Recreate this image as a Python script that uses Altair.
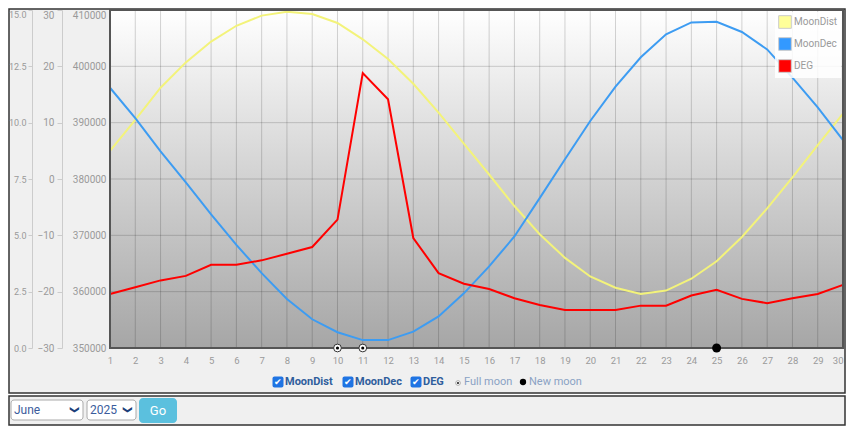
import altair as alt
import pandas as pd

# ---------------- data ----------------
days = list(range(1, 31))
moon_dist = [385000, 390500, 396200, 400700, 404400, 407200, 409000, 409700, 409300, 407700,
             404800, 401300, 396900, 391800, 386300, 380800, 375200, 370200, 366000, 362700,
             360700, 359600, 360200, 362300, 365400, 369700, 374800, 380300, 386000, 391600]
moon_dec = [16.2, 10.8, 4.9, -0.6, -6.3, -11.7, -16.7, -21.3, -24.9, -27.2,
            -28.6, -28.6, -27.1, -24.4, -20.3, -15.5, -10.2, -3.4, 3.5, 10.3,
            16.4, 21.6, 25.7, 27.8, 27.9, 26.1, 23.0, 18.0, 12.7, 6.9]
deg = [2.40, 2.70, 3.00, 3.20, 3.69, 3.69, 3.89, 4.18, 4.48, 5.70,
       12.20, 11.04, 4.88, 3.32, 2.85, 2.62, 2.21, 1.91, 1.69, 1.69,
       1.69, 1.88, 1.88, 2.33, 2.58, 2.18, 1.99, 2.21, 2.40, 2.80]
full_moon_days = [10, 11]
new_moon_days = [25]

series_names = ["MoonDist", "MoonDec", "DEG"]
legend_colors = ["#ffff99", "#3399ff", "#ff0000"]
line_colors = ["#f3f37a", "#3d9cf2", "#ff0000"]

dist_ticks = [350000, 360000, 370000, 380000, 390000, 400000, 410000]
dec_ticks = [-30, -20, -10, 0, 10, 20, 30]
deg_ticks = [0, 2.5, 5, 7.5, 10, 12.5, 15]

bottom_items = ["MoonDist", "MoonDec", "DEG"]
bottom_item_x = [168, 238, 306]
phase_labels = ["Full moon", "New moon"]
phase_label_x = [348, 413]

month_label = "June"
year_label = "2025"
button_label = "Go"

# ---------------- layout ----------------
W, H = 733, 338
FONT = "Roboto, sans-serif"
GRAY = "#9a9a9a"

df = pd.DataFrame({"day": days, "dist": moon_dist, "dec": moon_dec, "deg": deg})
one = pd.DataFrame({"a": [0]})

x_scale = alt.Scale(domain=[1, 30], nice=False, zero=False)
x_axis = alt.Axis(values=days, title=None, labelColor=GRAY, labelFontSize=9.5, labelFont=FONT,
                  tickSize=0, domain=False, grid=False, labelPadding=7, labelFlush=False,
                  labelOverlap=False, format="d", zindex=2,
                  labelAlign=alt.condition(f"datum.value == {days[-1]}", alt.value("right"),
                                           alt.value("center")))
x_enc = alt.X("day:Q", scale=x_scale, axis=x_axis)

dist_scale = alt.Scale(domain=[350000, 410000], nice=False, zero=False)
dec_scale = alt.Scale(domain=[-30, 30], nice=False, zero=False)
deg_scale = alt.Scale(domain=[0, 15], nice=False, zero=False)


def top_base(v):
    return alt.condition(f"datum.value == {v}", alt.value("top"), alt.value("middle"))


# outer frame
frame = alt.Chart(one).mark_rect(fill="#f0f0f0", stroke="#333333", strokeWidth=1.5).encode(
    x=alt.value(-101), x2=alt.value(735), y=alt.value(-1), y2=alt.value(383))
form_frame = alt.Chart(one).mark_rect(fill="#f0f0f0", stroke="#333333", strokeWidth=1.5).encode(
    x=alt.value(-101), x2=alt.value(735), y=alt.value(386), y2=alt.value(415))

# plot background gradient
bg = alt.Chart(one).mark_rect(
    fill=alt.Gradient(gradient="linear",
                      stops=[alt.GradientStop(color="#ffffff", offset=0),
                             alt.GradientStop(color="#d6d6d6", offset=0.45),
                             alt.GradientStop(color="#a6a6a6", offset=1)],
                      x1=0, x2=0, y1=0, y2=1)
).encode(x=alt.value(0), x2=alt.value(W), y=alt.value(0), y2=alt.value(H))

vgrid = alt.Chart(df).mark_rule(stroke="#000000", strokeOpacity=0.17, strokeWidth=1).encode(
    x=x_enc, y=alt.value(0), y2=alt.value(H))
hgrid = alt.Chart(pd.DataFrame({"v": dist_ticks})).mark_rule(
    stroke="#000000", strokeOpacity=0.17, strokeWidth=1).encode(
    y=alt.Y("v:Q", scale=dist_scale, axis=None), x=alt.value(0), x2=alt.value(W))

border = alt.Chart(one).mark_rect(filled=False, stroke="#555555", strokeWidth=2).encode(
    x=alt.value(0), x2=alt.value(W), y=alt.value(0), y2=alt.value(H))

dist_line = alt.Chart(df).mark_line(color=line_colors[0], strokeWidth=2).encode(
    x=x_enc,
    y=alt.Y("dist:Q", scale=dist_scale,
            axis=alt.Axis(orient="left", offset=0, values=dist_ticks, format="d", title=None,
                          labelColor=GRAY, labelFontSize=10, labelFont=FONT, tickSize=0,
                          domain=False, grid=False, labelPadding=4, labelFlush=False, zindex=2,
                          labelBaseline=top_base(dist_ticks[-1]))))
dec_line = alt.Chart(df).mark_line(color=line_colors[1], strokeWidth=2).encode(
    x=x_enc,
    y=alt.Y("dec:Q", scale=dec_scale,
            axis=alt.Axis(orient="left", offset=48, values=dec_ticks, format="d", title=None,
                          labelColor=GRAY, labelFontSize=10, labelFont=FONT, tickSize=5,
                          tickColor="#cccccc", domain=True, domainColor="#cccccc", grid=False,
                          labelPadding=3, labelFlush=False, zindex=2,
                          labelBaseline=top_base(dec_ticks[-1]))))
deg_line = alt.Chart(df).mark_line(color=line_colors[2], strokeWidth=2).encode(
    x=x_enc,
    y=alt.Y("deg:Q", scale=deg_scale,
            axis=alt.Axis(orient="left", offset=78, values=deg_ticks, format=".1f", title=None,
                          labelColor=GRAY, labelFontSize=9, labelFont=FONT, tickSize=4,
                          tickColor="#cccccc", domain=True, domainColor="#cccccc", grid=False,
                          labelPadding=2, labelFlush=False, zindex=2,
                          labelBaseline=top_base(deg_ticks[-1]))))

full_df = pd.DataFrame({"day": full_moon_days})
new_df = pd.DataFrame({"day": new_moon_days})
base_y = alt.YDatum(350000, scale=dist_scale, axis=None)
full_outer = alt.Chart(full_df).mark_point(shape="circle", filled=True, fill="white",
                                           stroke="#333333", strokeWidth=1, size=60,
                                           opacity=1).encode(x=x_enc, y=base_y)
full_inner = alt.Chart(full_df).mark_circle(color="black", size=10, opacity=1).encode(x=x_enc, y=base_y)
new_dot = alt.Chart(new_df).mark_circle(color="black", size=80, opacity=1).encode(x=x_enc, y=base_y)

legend_layer = alt.Chart(pd.DataFrame({"series": series_names})).mark_square(opacity=0, size=1).encode(
    x=alt.value(10), y=alt.value(10),
    color=alt.Color("series:N", scale=alt.Scale(domain=series_names, range=legend_colors),
                    sort=series_names,
                    legend=alt.Legend(orient="top-right", offset=2, title=None, symbolType="square",
                                      symbolSize=160, symbolStrokeColor="#cccccc",
                                      symbolStrokeWidth=1, symbolOpacity=1, labelColor=GRAY,
                                      labelFontSize=10, labelFont=FONT, padding=3, rowPadding=4,
                                      labelOffset=2, fillColor="rgba(255,255,255,0.85)")))

# bottom checkbox legend
items_df = pd.DataFrame({"label": bottom_items, "x": bottom_item_x})
cbox = alt.Chart(items_df).mark_rect(fill="#1f74e3", cornerRadius=2, width=11, height=11).encode(
    x=alt.X("x:Q", scale=None), y=alt.value(372))
ccheck = alt.Chart(items_df).mark_text(text="✔", color="white", fontSize=9, align="center",
                                       baseline="middle").encode(
    x=alt.X("x:Q", scale=None), y=alt.value(372))
clabel = alt.Chart(items_df).mark_text(color="#2f5e9c", fontSize=11, fontWeight="bold", font=FONT,
                                       align="left", baseline="middle", dx=7).encode(
    x=alt.X("x:Q", scale=None), y=alt.value(372), text="label:N")

ph_df = pd.DataFrame({"label": phase_labels, "x": phase_label_x})
ph_text = alt.Chart(ph_df).mark_text(color="#8aa2c4", fontSize=11, font=FONT, align="left",
                                     baseline="middle", dx=6).encode(
    x=alt.X("x:Q", scale=None), y=alt.value(372), text="label:N")
ph_full_o = alt.Chart(ph_df.iloc[[0]]).mark_point(shape="circle", filled=True, fill="white",
                                                  stroke="#999999", strokeWidth=0.8, size=22,
                                                  opacity=1).encode(
    x=alt.X("x:Q", scale=None), y=alt.value(373))
ph_full = alt.Chart(ph_df.iloc[[0]]).mark_circle(color="#222222", size=5, opacity=1).encode(
    x=alt.X("x:Q", scale=None), y=alt.value(373))
ph_new = alt.Chart(ph_df.iloc[[1]]).mark_circle(color="black", size=40, opacity=1).encode(
    x=alt.X("x:Q", scale=None), y=alt.value(372))

# form controls
sel_df = pd.DataFrame({"label": [month_label, year_label], "x0": [-99, -23], "x1": [-27, 26]})
sel_df["xc"] = sel_df["x1"] - 8
sel_box = alt.Chart(sel_df).mark_rect(fill="white", stroke="#aaaaaa", strokeWidth=1, cornerRadius=3).encode(
    x=alt.X("x0:Q", scale=None), x2="x1:Q", y=alt.value(390), y2=alt.value(410))
sel_text = alt.Chart(sel_df).mark_text(color="#3a5c9c", fontSize=12, font=FONT, align="left",
                                       baseline="middle", dx=3).encode(
    x=alt.X("x0:Q", scale=None), y=alt.value(400), text="label:N")
sel_chev = alt.Chart(sel_df).mark_text(text="❯", color="#1d3f7a", fontSize=9, angle=90,
                                       fontWeight="bold", align="center", baseline="middle").encode(
    x=alt.X("xc:Q", scale=None), y=alt.value(400))
btn_df = pd.DataFrame({"label": [button_label], "x0": [29], "x1": [67]})
btn_df["xc"] = (btn_df["x0"] + btn_df["x1"]) / 2
btn = alt.Chart(btn_df).mark_rect(fill="#5bc0de", cornerRadius=4).encode(
    x=alt.X("x0:Q", scale=None), x2="x1:Q", y=alt.value(388), y2=alt.value(413))
btn_text = alt.Chart(btn_df).mark_text(color="white", fontSize=13, font=FONT, align="center",
                                       baseline="middle").encode(
    x=alt.X("xc:Q", scale=None), y=alt.value(401), text="label:N")

chart = alt.layer(
    frame, form_frame, bg, vgrid, hgrid, dist_line, dec_line, deg_line, border,
    full_outer, full_inner, new_dot, legend_layer,
    cbox, ccheck, clabel, ph_text, ph_full_o, ph_full, ph_new,
    sel_box, sel_text, sel_chev, btn, btn_text
).resolve_scale(y="independent").properties(
    width=W, height=H,
    autosize=alt.AutoSizeParams(type="none"),
    padding={"left": 102, "top": 2, "right": 3, "bottom": 78},
    background="white"
).configure_view(stroke=None)

chart.save("out.html", embed_options={"renderer": "svg", "actions": False})
